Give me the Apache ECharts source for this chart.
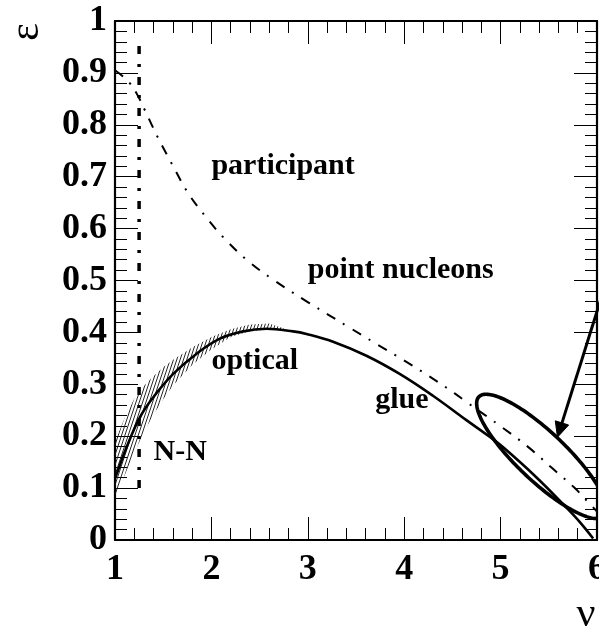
<!DOCTYPE html>
<html>
<head>
<meta charset="utf-8">
<script src="https://cdn.jsdelivr.net/npm/echarts@6/dist/echarts.min.js"></script>
<style>
  html, body { margin: 0; padding: 0; background: #fff; }
  #chart { width: 599px; height: 629px; }
</style>
</head>
<body>
<div id="chart"></div>
<script>
// Eccentricity versus number of collisions per participant
const xRange = [1, 6];
const yRange = [0, 1];

// participant eccentricity of point nucleons (dash-dot)
const participantCurve = [
  [1.00, 0.905], [1.07, 0.895], [1.155, 0.880], [1.24, 0.855], [1.31, 0.828],
  [1.449, 0.774], [1.598, 0.722], [1.753, 0.670], [1.94, 0.623], [2.14, 0.580],
  [2.375, 0.5385], [2.63, 0.503], [3.003, 0.458], [3.435, 0.409], [3.71, 0.378],
  [3.99, 0.347], [4.247, 0.317], [4.52, 0.283], [4.645, 0.266], [5.024, 0.216],
  [5.294, 0.178], [5.525, 0.140], [5.767, 0.1006], [5.88, 0.0785], [6.00, 0.055]
];

// optical Glauber / glue eccentricity (solid)
const opticalCurve = [
  [1.00, 0.119], [1.018, 0.1276], [1.121, 0.179], [1.259, 0.2366], [1.397, 0.275],
  [1.604, 0.320], [1.847, 0.359], [2.088, 0.388], [2.33, 0.402], [2.572, 0.407],
  [2.848, 0.402], [2.987, 0.397], [3.262, 0.382], [3.608, 0.355], [3.953, 0.320],
  [4.298, 0.278], [4.645, 0.231], [4.886, 0.199], [5.024, 0.179], [5.37, 0.121],
  [5.68, 0.063], [5.82, 0.035], [5.96, 0.003]
];

// hatched uncertainty band on the optical curve
const bandX    = [1.00, 1.10, 1.20, 1.30, 1.40, 1.50, 1.60, 1.80, 2.00, 2.20, 2.40, 2.60, 2.75];
const bandLow  = [0.085, 0.125, 0.168, 0.208, 0.242, 0.271, 0.297, 0.337, 0.367, 0.391, 0.402, 0.406, 0.405];
const bandHigh = [0.190, 0.235, 0.272, 0.297, 0.316, 0.333, 0.347, 0.371, 0.391, 0.406, 0.415, 0.417, 0.408];

// N-N limit (vertical dash-dot)
const nnLine = [[1.25, 0.10], [1.25, 0.97]];

// error ellipse: centre and two conjugate half-diameters
const ellipseCenter = [5.425, 0.161];
const ellipseHalfU = [0.6736, -0.1021];
const ellipseHalfV = [0.0, 0.0626];

// arrow pointing at the ellipse: [fromX, fromY, toX, toY]
const arrowLine = [[6.05, 0.47, 5.59, 0.198]];

// annotations: [text, x, y (baseline)]
const annotations = [
  ['participant', 2.0, 0.70],
  ['point nucleons', 3.0, 0.50],
  ['optical', 2.0, 0.325],
  ['glue', 3.7, 0.25],
  ['N-N', 1.4, 0.15]
];

const SERIF = '"Liberation Serif", "Times New Roman", serif';

// diagonal hatch tile
const hatch = document.createElement('canvas');
hatch.width = 10; hatch.height = 30;
(function () {
  const g = hatch.getContext('2d');
  g.strokeStyle = '#111';
  g.lineWidth = 0.9;
  for (let k = -3; k <= 3; k++) {
    const x0 = k * 10 / 3;
    g.beginPath();
    g.moveTo(x0, 30);
    g.lineTo(x0 + 10, 0);
    g.stroke();
  }
})();

const chart = echarts.init(document.getElementById('chart'), null, { renderer: 'canvas' });

function axisCommon(showLabels) {
  return {
    type: 'value',
    axisLine: { show: true, onZero: false, lineStyle: { color: '#000', width: 2.2 } },
    axisTick: { show: true, inside: true, length: 23, lineStyle: { color: '#000', width: 1 } },
    minorTick: { show: true, splitNumber: 5, length: 12, lineStyle: { color: '#000', width: 1 } },
    splitLine: { show: false },
    minorSplitLine: { show: false },
    axisLabel: {
      show: showLabels,
      fontFamily: SERIF, fontWeight: 'bold', fontSize: 36, color: '#000'
    }
  };
}

const xBottom = Object.assign(axisCommon(true), { min: xRange[0], max: xRange[1], interval: 1, position: 'bottom' });
xBottom.axisLabel.margin = 12;
const xTop = Object.assign(axisCommon(false), { min: xRange[0], max: xRange[1], interval: 1, position: 'top' });
const yLeft = Object.assign(axisCommon(true), { min: yRange[0], max: yRange[1], interval: 0.1, position: 'left' });
yLeft.axisLabel.margin = 8;
const yRight = Object.assign(axisCommon(false), { min: yRange[0], max: yRange[1], interval: 0.1, position: 'right' });

const option = {
  animation: false,
  backgroundColor: '#fff',
  grid: { left: 115, right: 2, top: 21, bottom: 89, containLabel: false, outerBoundsMode: 'none' },
  xAxis: [xBottom, xTop],
  yAxis: [yLeft, yRight],
  graphic: [
    {
      type: 'text', x: 27, y: 32, rotation: Math.PI / 2,
      style: { text: 'ε', font: '42px ' + SERIF, fill: '#000', align: 'center', verticalAlign: 'middle' }
    },
    {
      type: 'text', x: 586, y: 615,
      style: { text: 'ν', font: '42px ' + SERIF, fill: '#000', align: 'center', verticalAlign: 'middle' }
    }
  ],
  series: [
    {
      name: 'band', type: 'custom', xAxisIndex: 0, yAxisIndex: 0, clip: true, z: 1, silent: true,
      data: [[bandX[0], bandLow[0]]],
      renderItem: function (params, api) {
        const pts = [];
        for (let i = 0; i < bandX.length; i++) pts.push(api.coord([bandX[i], bandHigh[i]]));
        for (let i = bandX.length - 1; i >= 0; i--) pts.push(api.coord([bandX[i], bandLow[i]]));
        return {
          type: 'polygon', shape: { points: pts },
          style: { fill: { image: hatch, repeat: 'repeat' }, stroke: null }
        };
      }
    },
    {
      name: 'optical', type: 'line', xAxisIndex: 0, yAxisIndex: 0,
      data: opticalCurve, showSymbol: false, smooth: 0.4,
      lineStyle: { color: '#000', width: 2.6 }, z: 3
    },
    {
      name: 'participant', type: 'line', xAxisIndex: 0, yAxisIndex: 0,
      data: participantCurve, showSymbol: false, smooth: 0.4,
      lineStyle: { color: '#000', width: 2, type: [10, 9, 2, 9] }, z: 3
    },
    {
      name: 'N-N', type: 'line', xAxisIndex: 0, yAxisIndex: 0,
      data: nnLine, showSymbol: false,
      lineStyle: { color: '#000', width: 3.5, type: [8, 10, 3, 10] }, z: 3
    },
    {
      name: 'ellipse', type: 'custom', xAxisIndex: 0, yAxisIndex: 0, clip: true, z: 4,
      data: [ellipseCenter],
      renderItem: function (params, api) {
        const cx = api.value(0), cy = api.value(1);
        const pts = [];
        const n = 180;
        for (let i = 0; i < n; i++) {
          const t = 2 * Math.PI * i / n;
          const c = Math.cos(t), s = Math.sin(t);
          pts.push(api.coord([cx + ellipseHalfU[0] * c + ellipseHalfV[0] * s,
                              cy + ellipseHalfU[1] * c + ellipseHalfV[1] * s]));
        }
        return {
          type: 'polygon', shape: { points: pts },
          style: { fill: 'none', stroke: '#000', lineWidth: 3.6 }
        };
      }
    },
    {
      name: 'arrow', type: 'custom', xAxisIndex: 0, yAxisIndex: 0, clip: false, z: 5,
      data: arrowLine,
      renderItem: function (params, api) {
        const p0 = api.coord([api.value(0), api.value(1)]);
        const p1 = api.coord([api.value(2), api.value(3)]);
        const dx = p1[0] - p0[0], dy = p1[1] - p0[1];
        const len = Math.sqrt(dx * dx + dy * dy);
        const ux = dx / len, uy = dy / len;
        const headL = 15, headW = 7;
        const bx = p1[0] - ux * headL, by = p1[1] - uy * headL;
        return {
          type: 'group',
          children: [
            { type: 'line', shape: { x1: p0[0], y1: p0[1], x2: bx + ux * 2, y2: by + uy * 2 },
              style: { stroke: '#000', lineWidth: 3 } },
            { type: 'polygon',
              shape: { points: [[p1[0], p1[1]], [bx - uy * headW, by + ux * headW], [bx + uy * headW, by - ux * headW]] },
              style: { fill: '#000', stroke: '#000', lineWidth: 1 } }
          ]
        };
      }
    },
    {
      name: 'annotations', type: 'custom', xAxisIndex: 0, yAxisIndex: 0, clip: false, z: 6,
      data: annotations.map(a => [a[1], a[2]]),
      renderItem: function (params, api) {
        const a = annotations[params.dataIndex];
        const p = api.coord([a[1], a[2]]);
        return {
          type: 'text', x: p[0], y: p[1] - 10,
          style: { text: a[0], font: 'bold 30px ' + SERIF, fill: '#000', align: 'left', verticalAlign: 'middle' }
        };
      }
    }
  ]
};

chart.setOption(option);
</script>
</body>
</html>
